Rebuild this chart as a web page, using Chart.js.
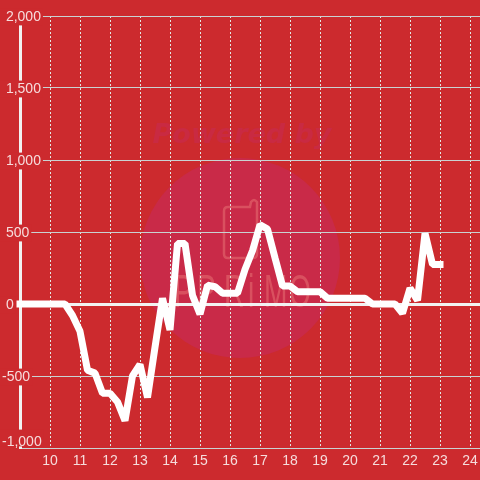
<!DOCTYPE html>
<html>
<head>
<meta charset="utf-8">
<title>Chart</title>
<script src="https://cdn.jsdelivr.net/npm/chart.js@4/dist/chart.umd.min.js"></script>
<style>
    html, body { margin: 0; padding: 0; background: #cc2a2e; }
    canvas { display: block; }
</style>
</head>
<body>
<canvas id="chart" width="480" height="480"></canvas>
<script>
// hour of day for each reading, every 15 minutes from 9:00 to 23:00
const hours = [
    9, 9.25, 9.5, 9.75,
    10, 10.25, 10.5, 10.75,
    11, 11.25, 11.5, 11.75,
    12, 12.25, 12.5, 12.75,
    13, 13.25, 13.5, 13.75,
    14, 14.25, 14.5, 14.75,
    15, 15.25, 15.5, 15.75,
    16, 16.25, 16.5, 16.75,
    17, 17.25, 17.5, 17.75,
    18, 18.25, 18.5, 18.75,
    19, 19.25, 19.5, 19.75,
    20, 20.25, 20.5, 20.75,
    21, 21.25, 21.5, 21.75,
    22, 22.25, 22.5, 22.75,
    23
];
const values = [
    0, 0, 0, 0,
    0, 0, 0, -80,
    -190, -460, -480, -620,
    -620, -680, -810, -500,
    -420, -650, -300, 40,
    -180, 420, 420, 60,
    -70, 130, 120, 75,
    75, 75, 240, 370,
    550, 520, 320, 125,
    125, 85, 85, 85,
    85, 40, 40, 40,
    40, 40, 40, 0,
    0, 0, 0, -65,
    110, 25, 490, 275,
    275
];

const BG = "#cc2a2e";
const TEXT = "#f6dcdc";
const GRID = "#c9d2d2";

// faint "Powered by" logo behind the plot
const watermark = {
    id: "watermark",
    beforeDraw(chart) {
        const ctx = chart.ctx;
        ctx.save();
        ctx.fillStyle = "#c92a48";
        ctx.beginPath();
        ctx.arc(240, 258, 100, 0, Math.PI * 2);
        ctx.fill();

        ctx.fillStyle = "#c92a42";
        ctx.font = "italic bold 27px 'DejaVu Sans'";
        ctx.textAlign = "center";
        ctx.fillText("Powered by", 242, 143);

        // phone-like outline with a small tab on the top right
        ctx.strokeStyle = "#d9505f";
        ctx.lineWidth = 2.5;
        ctx.beginPath();
        ctx.moveTo(250, 207);
        ctx.lineTo(228, 207);
        ctx.quadraticCurveTo(224, 207, 224, 211);
        ctx.lineTo(224, 254);
        ctx.quadraticCurveTo(224, 258, 228, 258);
        ctx.lineTo(253, 258);
        ctx.quadraticCurveTo(257, 258, 257, 254);
        ctx.lineTo(257, 202);
        ctx.quadraticCurveTo(254, 198, 251, 202);
        ctx.closePath();
        ctx.stroke();

        ctx.fillStyle = "#d9505f";
        ctx.font = "47px 'Liberation Sans'";
        ctx.textAlign = "left";
        ["P", "P", "R", "i", "M", "O"].forEach(function(ch, i) {
            const x = [174, 197, 224, 248, 264, 289][i];
            ctx.save();
            ctx.translate(x, 307);
            ctx.scale(0.6, 1);
            ctx.fillText(ch, 0, 0);
            ctx.restore();
        });
        ctx.restore();

        // lift the bottom axis label so it sits above the last grid line
        const bottomLabel = chart.scales.y.getLabelItems().find(item => item.label === "-1,000");
        if (bottomLabel && !bottomLabel.lifted) {
            bottomLabel.lifted = true;
            bottomLabel.options.translation[1] -= 7;
            bottomLabel.options.backdrop.top -= 4;
        }
    }
};

new Chart(document.getElementById("chart"), {
    type: "line",
    data: {
        datasets: [{
            data: hours.map((h, i) => ({ x: h, y: values[i] })),
            borderColor: "#ffffff",
            borderWidth: 7,
            borderCapStyle: "square",
            borderJoinStyle: "bevel",
            pointRadius: 0,
            tension: 0,
            clip: false
        }]
    },
    options: {
        responsive: false,
        animation: false,
        layout: { padding: { top: 16 } },
        plugins: {
            legend: { display: false },
            tooltip: { enabled: false }
        },
        scales: {
            x: {
                type: "linear",
                min: 9,
                max: 24.333,
                afterFit: function(scale) {
                    scale.height = 32;
                    scale.paddingLeft = 0;
                    scale.paddingRight = 0;
                },
                grid: { color: "#e2e8e4", lineWidth: 1, drawTicks: false },
                border: { display: false, dash: [2, 2] },
                ticks: {
                    stepSize: 1,
                    includeBounds: false,
                    autoSkip: false,
                    maxRotation: 0,
                    padding: 5,
                    color: TEXT,
                    font: { family: "'Liberation Sans'", size: 14 },
                    callback: function(value) { return value === 9 ? null : String(value); }
                }
            },
            y: {
                min: -1000,
                max: 2000,
                afterFit: function(scale) {
                    scale.width = 20;
                    scale.paddingTop = 0;
                    scale.paddingBottom = 0;
                },
                grid: {
                    drawTicks: false,
                    color: function(ctx) { return ctx.tick && ctx.tick.value === 0 ? "#f2f2f2" : GRID; },
                    lineWidth: function(ctx) { return ctx.tick && ctx.tick.value === 0 ? 3 : 1; }
                },
                border: { display: true, color: "#f2f2f2", width: 3 },
                ticks: {
                    stepSize: 250,
                    autoSkip: false,
                    mirror: true,
                    crossAlign: "near",
                    padding: -18,
                    labelOffset: 1,
                    color: TEXT,
                    font: { family: "'Liberation Sans'", size: 14 },
                    showLabelBackdrop: true,
                    backdropColor: BG,
                    backdropPadding: { x: 2, y: 0 },
                    callback: function(value) {
                        if (value % 500 !== 0) return null;
                        const text = Math.abs(value).toLocaleString("en-US");
                        return value < 0 ? "-" + text : " " + text;
                    }
                }
            }
        }
    },
    plugins: [watermark]
});
</script>
</body>
</html>
